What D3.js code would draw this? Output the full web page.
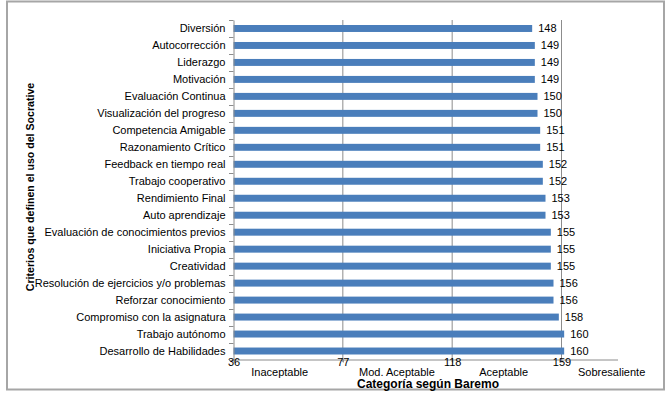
<!DOCTYPE html>
<html>
<head>
<meta charset="utf-8">
<script src="https://cdn.jsdelivr.net/npm/d3@7"></script>
<style>
  body { margin: 0; background: #fff; }
  svg { display: block; font-family: "Liberation Sans", Arial, sans-serif; }
</style>
</head>
<body>
<svg width="668" height="394"></svg>
<script>
// criteria, top to bottom as in the chart
var criterios = [
  "Diversión", "Autocorrección", "Liderazgo", "Motivación",
  "Evaluación Continua", "Visualización del progreso", "Competencia Amigable",
  "Razonamiento Crítico", "Feedback en tiempo real", "Trabajo cooperativo",
  "Rendimiento Final", "Auto aprendizaje", "Evaluación de conocimientos previos",
  "Iniciativa Propia", "Creatividad", "Resolución de ejercicios y/o problemas",
  "Reforzar conocimiento", "Compromiso con la asignatura", "Trabajo autónomo",
  "Desarrollo de Habilidades"
];
var puntajes = [148, 149, 149, 149, 150, 150, 151, 151, 152, 152,
                153, 153, 155, 155, 155, 156, 156, 158, 160, 160];

// baremo cut points and the category names written between them
var cortes = [36, 77, 118, 159];
var categorias = ["Inaceptable", "Mod. Aceptable", "Aceptable", "Sobresaliente"];
var catPos = [53.5, 97.5, 137.5, 178];

var data = criterios.map(function(c, i){ return {name: c, v: puntajes[i]}; });

var svg = d3.select("svg");

// outer frame
svg.append("rect")
  .attr("x", 7).attr("y", 1.5)
  .attr("width", 657).attr("height", 388)
  .attr("fill", "none")
  .attr("stroke", "#a6a6a6")
  .attr("stroke-width", 2);

var x = d3.scaleLinear().domain([36, 180]).range([233, 617]);
var y = d3.scaleBand().domain(criterios).range([20, 359.5]).paddingInner(0.59).paddingOuter(0.295);
var yOuter = d3.scaleBand().domain(criterios).range([20, 359.5]);

// gridlines
svg.append("g").selectAll("line")
  .data(cortes.slice(1))
  .enter().append("line")
  .attr("x1", function(d){ return x(d) + 0.5; })
  .attr("x2", function(d){ return x(d) + 0.5; })
  .attr("y1", 20).attr("y2", 362)
  .attr("stroke", "#8c8c8c").attr("stroke-width", 1);

// bars
svg.append("g").selectAll("rect")
  .data(data)
  .enter().append("rect")
  .attr("x", x(36) + 0.5)
  .attr("y", function(d){ return y(d.name); })
  .attr("width", function(d){ return x(d.v) - x(36); })
  .attr("height", y.bandwidth())
  .attr("fill", "#4a7ebb");

// value labels
svg.append("g").selectAll("text")
  .data(data)
  .enter().append("text")
  .attr("x", function(d){ return x(d.v) + 6.5; })
  .attr("y", function(d){ return y(d.name) + y.bandwidth() / 2; })
  .attr("dy", "0.36em")
  .attr("font-size", 11)
  .attr("fill", "#000")
  .text(function(d){ return d.v; });

// y axis
var yAxis = d3.axisLeft(yOuter).tickSize(0).tickPadding(8);
var gy = svg.append("g").attr("transform", "translate(233.5,0)").call(yAxis);
gy.select(".domain").attr("stroke", "#8c8c8c");
gy.selectAll("text").attr("font-size", 11).attr("fill", "#000")
  .attr("font-family", "Liberation Sans, Arial, sans-serif");
// small ticks at band edges
svg.append("g").selectAll("line")
  .data(criterios.concat(["end"]))
  .enter().append("line")
  .attr("x1", 229).attr("x2", 233.5)
  .attr("y1", function(d, i){ return Math.round(20 + i * yOuter.step()) + 0.5; })
  .attr("y2", function(d, i){ return Math.round(20 + i * yOuter.step()) + 0.5; })
  .attr("stroke", "#8c8c8c");

// x axis
var xAxis = d3.axisBottom(x).tickValues(cortes).tickSize(3).tickSizeOuter(0);
var gx = svg.append("g").attr("transform", "translate(0.5,359.5)").call(xAxis);
gx.select(".domain").attr("stroke", "#8c8c8c");
gx.selectAll(".tick line").attr("stroke", "#8c8c8c");
gx.selectAll("text").attr("font-size", 11).attr("fill", "#000")
  .attr("y", -1)
  .attr("font-family", "Liberation Sans, Arial, sans-serif");

// category names of the baremo
svg.append("g").selectAll("text")
  .data(categorias)
  .enter().append("text")
  .attr("x", function(d, i){ return x(catPos[i]); })
  .attr("y", 375.5)
  .attr("text-anchor", "middle")
  .attr("font-size", 11)
  .attr("fill", "#000")
  .text(function(d){ return d; });

// axis titles
svg.append("text")
  .attr("x", 428).attr("y", 387.5)
  .attr("text-anchor", "middle")
  .attr("font-size", 12)
  .attr("font-weight", "bold")
  .text("Categoría según Baremo");

svg.append("text")
  .attr("transform", "translate(34,187) rotate(-90)")
  .attr("text-anchor", "middle")
  .attr("font-size", 10.6)
  .attr("font-weight", "bold")
  .text("Criterios que definen el uso del Socrative");
</script>
</body>
</html>
